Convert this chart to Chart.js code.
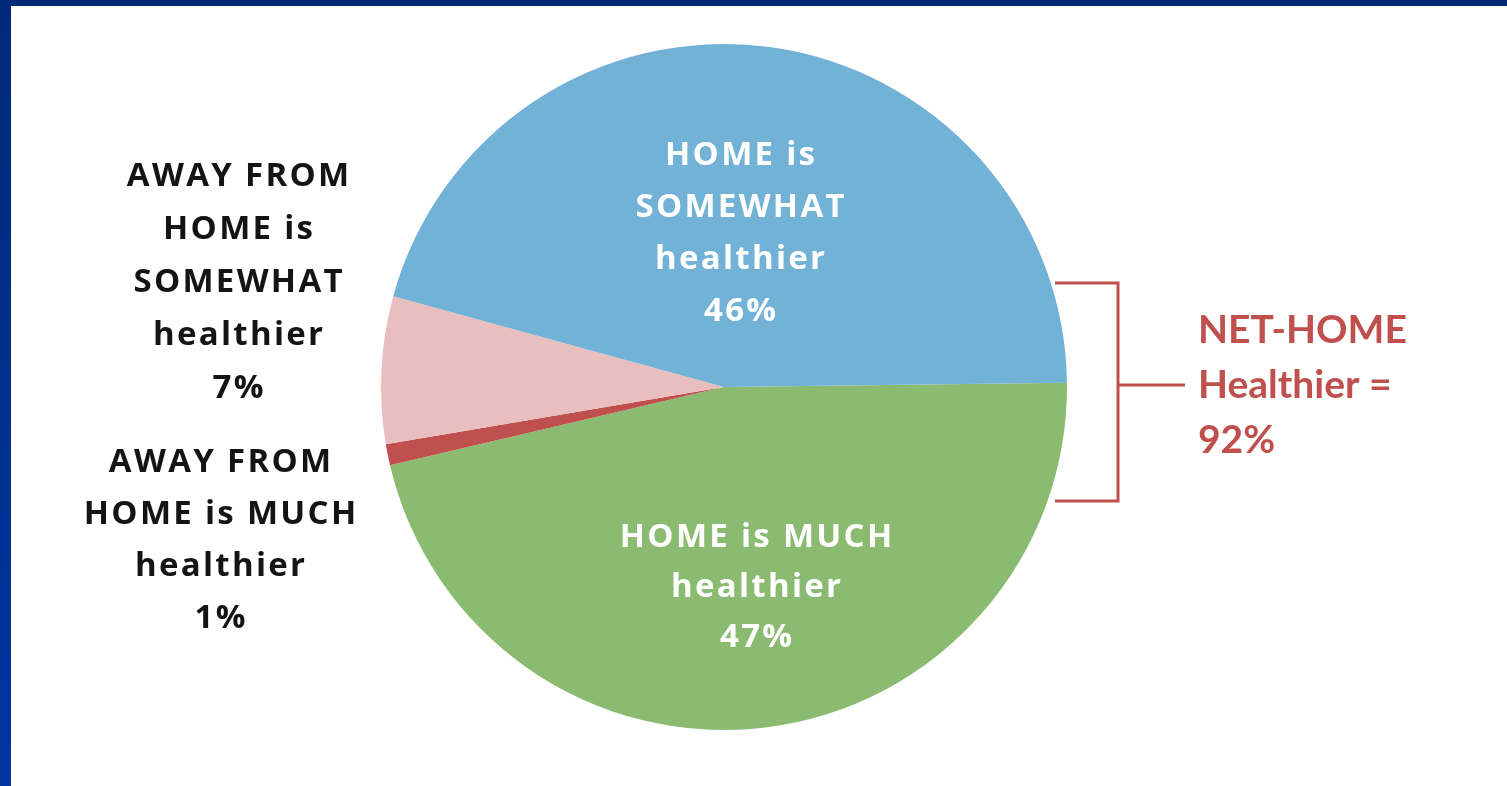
<!DOCTYPE html>
<html>
<head>
<meta charset="utf-8">
<title>Home vs away from home</title>
<script src="https://cdn.jsdelivr.net/npm/chart.js@4/dist/chart.umd.min.js"></script>
<style>
  html, body { margin: 0; padding: 0; background: #fff; overflow: hidden; }
  #wrap { position: relative; width: 1507px; height: 786px; }
  #topbar { position: absolute; left: 0; top: 0; width: 1507px; height: 6px; background: #002a78; }
  #leftbar { position: absolute; left: 0; top: 0; width: 11px; height: 786px;
             background: linear-gradient(#002a78, #0034a2); }
</style>
</head>
<body>
<div id="wrap">
  <canvas id="myChart" width="1507" height="786"></canvas>
  <div id="topbar"></div>
  <div id="leftbar"></div>
</div>
<script>
// slice order runs clockwise from 3 o'clock
const categories = [
  'HOME is MUCH healthier',
  'AWAY FROM HOME is MUCH healthier',
  'AWAY FROM HOME is SOMEWHAT healthier',
  'HOME is SOMEWHAT healthier'
];
const values = [47, 1, 7, 46];
const colors = ['#8bbb70', '#c0504d', '#e8bfbe', '#72b2d6'];
const netHome = 92;

// text lines for each slice label (the value line is added below)
const labelLines = [
  ['HOME is MUCH', 'healthier'],
  ['AWAY FROM', 'HOME is MUCH', 'healthier'],
  ['AWAY FROM', 'HOME is', 'SOMEWHAT', 'healthier'],
  ['HOME is', 'SOMEWHAT', 'healthier']
];
const netLines = ['NET-HOME', 'Healthier =', netHome + '%'];

const ctx = document.getElementById('myChart');

const labelFont = 'bold 33px "Open Sans", Lato, sans-serif';
const labelSpacing = 2.3;
const netFont = 'bold 39px Lato, "Open Sans", sans-serif';

// where each label block sits: centre x, first baseline, line step
const labelPos = [
  { x: 756, y: 547, step: 50, color: '#ffffff' },
  { x: 220, y: 472, step: 52, color: '#141414' },
  { x: 238, y: 186, step: 53, color: '#141414' },
  { x: 740, y: 165, step: 52, color: '#ffffff' }
];

const annotations = {
  id: 'annotations',
  afterDraw(chart) {
    const c = chart.ctx;
    c.save();
    c.textAlign = 'center';
    c.textBaseline = 'alphabetic';
    c.font = labelFont;
    c.letterSpacing = labelSpacing + 'px';
    values.forEach((v, i) => {
      const p = labelPos[i];
      const lines = labelLines[i].concat([v + '%']);
      c.fillStyle = p.color;
      // letterSpacing pads the last glyph too, so nudge right by half of it
      lines.forEach((t, k) => c.fillText(t, p.x + labelSpacing / 2, p.y + k * p.step));
    });

    // bracket grouping the two HOME slices
    c.strokeStyle = '#c0504d';
    c.lineWidth = 3;
    c.beginPath();
    c.moveTo(1055, 283);
    c.lineTo(1118, 283);
    c.lineTo(1118, 501);
    c.lineTo(1055, 501);
    c.moveTo(1118, 385);
    c.lineTo(1185, 385);
    c.stroke();

    c.textAlign = 'left';
    c.letterSpacing = '0px';
    c.font = netFont;
    c.fillStyle = '#c0504d';
    netLines.forEach((t, k) => c.fillText(t, 1198, 343 + k * 55));
    c.restore();
  }
};

new Chart(ctx, {
  type: 'pie',
  data: {
    labels: categories,
    datasets: [{
      data: values,
      backgroundColor: colors,
      borderWidth: 0
    }]
  },
  options: {
    responsive: false,
    animation: false,
    rotation: 89.3,
    layout: {
      padding: { top: 44, bottom: 56, left: 381, right: 440 }
    },
    plugins: {
      legend: { display: false },
      tooltip: { enabled: false }
    }
  },
  plugins: [annotations]
});
</script>
</body>
</html>
